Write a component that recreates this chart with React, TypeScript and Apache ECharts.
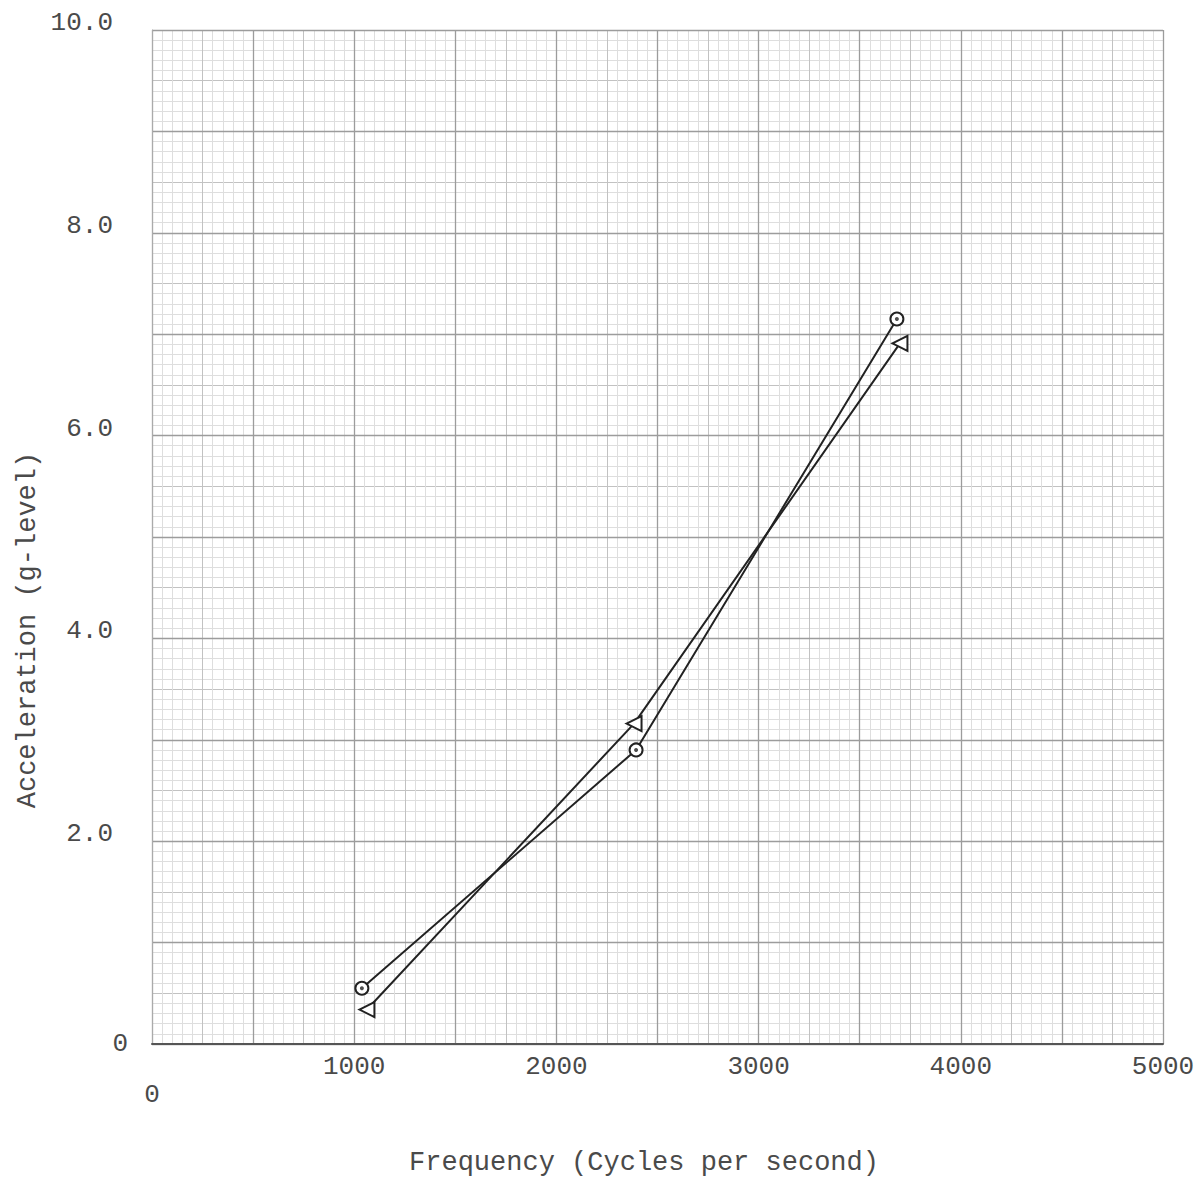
import React, { useEffect, useRef } from "react";
import * as echarts from "echarts";

// Data
const circleFreq = [1038, 2394, 3684];
const circleAccel = [0.55, 2.9, 7.15];
const triangleFreq = [1063, 2384, 3699];
const triangleAccel = [0.34, 3.16, 6.91];

const xTickLabels = ["0", "1000", "2000", "3000", "4000", "5000"];
const yTickLabels = ["0", "2.0", "4.0", "6.0", "8.0", "10.0"];

const xTitle = "Frequency (Cycles per second)";
const yTitle = "Acceleration (g-level)";

const FONT = "'Liberation Mono', 'DejaVu Sans Mono', monospace";
const TEXT_COLOR = "#4a4a4a";

export default function App() {
  const ref = useRef<HTMLDivElement>(null);

  useEffect(() => {
    if (!ref.current) return;
    const chart = echarts.init(ref.current, undefined, { renderer: "svg" });

    const gridPos = { left: 152, top: 30, width: 1011, height: 1014 };

    const xLabelFmt = (v: number) => {
      const i = Math.round(v / 1000);
      if (Math.abs(v - i * 1000) > 1e-6) return "";
      const t = xTickLabels[i] ?? "";
      return i === 0 ? `{z|${t}}` : `{n|${t}}`;
    };
    const yLabelFmt = (v: number) => {
      const i = Math.round(v / 2);
      if (Math.abs(v - i * 2) > 1e-6) return "";
      const t = yTickLabels[i] ?? "";
      return i === 0 ? `{z|${t}}` : `{n|${t}}`;
    };

    const pair = (xs: number[], ys: number[]) => xs.map((x, i) => [x, ys[i]]);

    chart.setOption({
      animation: false,
      backgroundColor: "#ffffff",
      grid: { ...gridPos, containLabel: false },
      xAxis: [
        {
          type: "value",
          min: 0,
          max: 5000,
          interval: 500,
          z: 2,
          axisLine: { show: true, onZero: false, lineStyle: { color: "#555", width: 2 } },
          axisTick: { show: false },
          splitLine: { show: true, lineStyle: { color: "#9c9c9c", width: 1.3 } },
          axisLabel: {
            formatter: xLabelFmt,
            margin: 10,
            color: TEXT_COLOR,
            fontFamily: FONT,
            fontSize: 26,
            rich: {
              n: { fontFamily: FONT, fontSize: 26, color: TEXT_COLOR },
              z: { fontFamily: FONT, fontSize: 26, color: TEXT_COLOR, padding: [28, 0, 0, 0] },
            },
          },
        },
        {
          type: "value",
          min: 0,
          max: 5000,
          interval: 250,
          z: 1,
          axisLine: { show: false },
          axisTick: { show: false },
          axisLabel: { show: false },
          splitLine: { show: true, lineStyle: { color: "#c2c2c2", width: 1 } },
          minorTick: { show: false, splitNumber: 5 },
          minorSplitLine: { show: true, lineStyle: { color: "#dedede", width: 1 } },
        },
      ],
      yAxis: [
        {
          type: "value",
          min: 0,
          max: 10,
          interval: 1,
          z: 2,
          axisLine: { show: true, onZero: false, lineStyle: { color: "#aaa", width: 1 } },
          axisTick: { show: false },
          splitLine: { show: true, lineStyle: { color: "#9c9c9c", width: 1.3 } },
          axisLabel: {
            formatter: yLabelFmt,
            margin: 24,
            color: TEXT_COLOR,
            fontFamily: FONT,
            fontSize: 26,
            rich: {
              n: { fontFamily: FONT, fontSize: 26, color: TEXT_COLOR, padding: [0, 15, 14, 0] },
              z: { fontFamily: FONT, fontSize: 26, color: TEXT_COLOR },
            },
          },
        },
        {
          type: "value",
          min: 0,
          max: 10,
          interval: 0.5,
          z: 1,
          axisLine: { show: false },
          axisTick: { show: false },
          axisLabel: { show: false },
          splitLine: { show: true, lineStyle: { color: "#c2c2c2", width: 1 } },
          minorTick: { show: false, splitNumber: 5 },
          minorSplitLine: { show: true, lineStyle: { color: "#dedede", width: 1 } },
        },
      ],
      series: [
        {
          type: "line",
          xAxisIndex: 0,
          yAxisIndex: 0,
          data: pair(circleFreq, circleAccel),
          symbol: "emptyCircle",
          symbolSize: 13,
          z: 5,
          lineStyle: { color: "#222", width: 2 },
          itemStyle: { color: "#222", borderColor: "#222", borderWidth: 2 },
        },
        {
          type: "scatter",
          xAxisIndex: 0,
          yAxisIndex: 0,
          data: pair(circleFreq, circleAccel),
          symbol: "circle",
          symbolSize: 4,
          z: 6,
          itemStyle: { color: "#222" },
        },
        {
          type: "line",
          xAxisIndex: 0,
          yAxisIndex: 0,
          data: pair(triangleFreq, triangleAccel),
          symbol: "emptyTriangle",
          symbolSize: 15,
          symbolRotate: 90,
          z: 5,
          lineStyle: { color: "#222", width: 2 },
          itemStyle: { color: "#222", borderColor: "#222", borderWidth: 2.5 },
        },
      ],
      graphic: [
        {
          type: "text",
          x: 644,
          y: 1163,
          style: {
            text: xTitle,
            fontFamily: FONT,
            fontSize: 27,
            fill: TEXT_COLOR,
            textAlign: "center",
            textVerticalAlign: "middle",
          },
        },
        {
          type: "text",
          x: 28,
          y: 630,
          rotation: Math.PI / 2,
          style: {
            text: yTitle,
            fontFamily: FONT,
            fontSize: 27,
            fill: TEXT_COLOR,
            textAlign: "center",
            textVerticalAlign: "middle",
          },
        },
      ],
    });

    return () => chart.dispose();
  }, []);

  return (
    <div
      ref={ref}
      style={{ position: "absolute", left: 0, top: 0, width: 1200, height: 1185 }}
    />
  );
}
